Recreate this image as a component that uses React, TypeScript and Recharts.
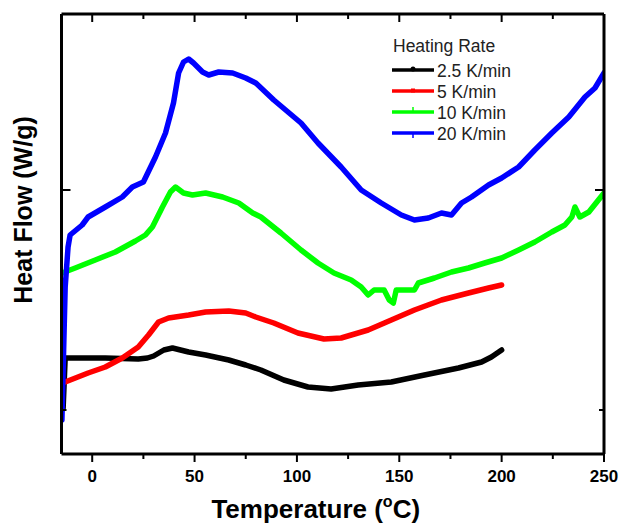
import { Label, Legend, Line, LineChart, XAxis, YAxis } from "recharts";

const TEMP_DOMAIN: [number, number] = [-15, 250];
const FLOW_DOMAIN: [number, number] = [-0.44, 3.96];
const TEMP_TICKS = [0, 25, 50, 75, 100, 125, 150, 175, 200, 225, 250];
const FLOW_TICKS = [0, 2.2];

const RATE_NAMES = ["2.5 K/min", "5 K/min", "10 K/min", "20 K/min"];
const RATE_COLORS = ["#000000", "#ff0000", "#00ff00", "#0000ff"];

// temperature (°C) and heat flow (arbitrary offset units)
const BLACK_T = [-14.2, -13.2, 6.4, 22.5, 27, 30, 35, 39.2, 47.1, 55.4, 66.7, 75.0, 82.4, 93.6, 105.4, 116.7, 129.9, 146.1, 162.3, 178.9, 190.2, 195, 200];
const BLACK_Q = [0.02, 0.52, 0.52, 0.51, 0.52, 0.54, 0.6, 0.62, 0.58, 0.55, 0.5, 0.45, 0.4, 0.3, 0.23, 0.21, 0.25, 0.28, 0.35, 0.42, 0.48, 0.53, 0.6];

const RED_T = [-13.2, -2.0, 6.4, 14.7, 22.5, 27.5, 32.4, 37.3, 47.1, 55.4, 66.7, 75.0, 79.9, 88.7, 100.5, 113.2, 121.6, 134.8, 146.1, 157.4, 170.6, 183.8, 193.6, 200];
const RED_Q = [0.28, 0.37, 0.43, 0.52, 0.63, 0.75, 0.88, 0.92, 0.95, 0.98, 0.99, 0.97, 0.93, 0.87, 0.77, 0.71, 0.72, 0.8, 0.9, 1.0, 1.1, 1.17, 1.22, 1.25];

const GREEN_T = [-14.7, -8.3, 1.5, 11.3, 21.1, 26.0, 29.4, 34.3, 38.2, 40.7, 44.6, 49.0, 55.4, 63.7, 71.6, 78.4, 82.4, 92.2, 102.0, 110.3, 118.1, 126.5, 131.4, 134.8, 137.7, 142.6, 145.1, 147.1, 148.5, 157.4, 159.3, 167.2, 175.5, 183.8, 191.7, 200.0, 208.3, 216.2, 224.5, 230.9, 234.3, 235.8, 238.2, 242.6, 250];
const GREEN_Q = [1.37, 1.42, 1.5, 1.58, 1.69, 1.75, 1.83, 2.03, 2.18, 2.23, 2.17, 2.15, 2.17, 2.13, 2.07, 1.97, 1.93, 1.77, 1.6, 1.47, 1.37, 1.3, 1.23, 1.15, 1.2, 1.2, 1.1, 1.07, 1.2, 1.2, 1.27, 1.32, 1.38, 1.42, 1.47, 1.52, 1.6, 1.68, 1.78, 1.85, 1.93, 2.03, 1.93, 1.98, 2.17];

const BLUE_T = [-14.8, -13.2, -11.8, -10.8, -4.9, -2.0, 6.4, 14.7, 19.6, 25.0, 30.9, 35.8, 39.7, 42.2, 44.6, 47.1, 49.5, 53.9, 56.9, 61.8, 68.6, 75.0, 79.9, 88.7, 102.0, 110.3, 121.6, 131.4, 141.2, 151.0, 157.4, 164.2, 170.6, 175.5, 180.4, 185.3, 193.6, 200.0, 208.3, 216.2, 224.5, 232.8, 240.7, 245.6, 250];
const BLUE_Q = [-0.1, 1.23, 1.63, 1.75, 1.85, 1.93, 2.03, 2.13, 2.23, 2.28, 2.53, 2.77, 3.07, 3.37, 3.48, 3.51, 3.47, 3.38, 3.35, 3.38, 3.37, 3.32, 3.27, 3.1, 2.87, 2.67, 2.43, 2.2, 2.07, 1.95, 1.9, 1.92, 1.97, 1.95, 2.07, 2.13, 2.25, 2.32, 2.43, 2.6, 2.77, 2.93, 3.13, 3.22, 3.37];

const SERIES = [
  { t: BLACK_T, q: BLACK_Q },
  { t: RED_T, q: RED_Q },
  { t: GREEN_T, q: GREEN_Q },
  { t: BLUE_T, q: BLUE_Q },
];

const FONT = "'Liberation Sans', Arial, sans-serif";

function toRows(t: number[], q: number[]) {
  return t.map((temp, i) => ({ t: temp, q: q[i] }));
}

function BottomTick({ x, y, payload }: any) {
  const major = payload.value % 50 === 0;
  return (
    <g>
      <line x1={x} x2={x} y1={y} y2={y + (major ? 8 : 5)} stroke="#000" strokeWidth={2} />
      {major && (
        <text x={x} y={y + 28} textAnchor="middle" fontSize={17} fontWeight="bold" fontFamily={FONT} fill="#000">
          {payload.value}
        </text>
      )}
    </g>
  );
}

function TopTick({ x, y, payload }: any) {
  const major = payload.value % 50 === 0;
  return <line x1={x} x2={x} y1={y} y2={y + (major ? 8 : 5)} stroke="#000" strokeWidth={2} />;
}

function LeftTick({ x, y, payload }: any) {
  const major = payload.value !== 0;
  return <line x1={x} x2={x + (major ? 9 : 5)} y1={y} y2={y} stroke="#000" strokeWidth={2} />;
}

function RightTick({ x, y, payload }: any) {
  const major = payload.value !== 0;
  return <line x1={x} x2={x - (major ? 9 : 5)} y1={y} y2={y} stroke="#000" strokeWidth={2} />;
}

function XTitle({ viewBox }: any) {
  const cx = viewBox.x + viewBox.width / 2 - 17;
  return (
    <text x={cx} y={viewBox.y + 64} textAnchor="middle" fontSize={26} fontWeight="bold" fontFamily={FONT} fill="#000">
      <tspan>Temperature (</tspan>
      <tspan fontSize={16} dy={-11}>o</tspan>
      <tspan dy={11}>C)</tspan>
    </text>
  );
}

function YTitle({ viewBox }: any) {
  const cx = 32;
  const cy = viewBox.y + viewBox.height / 2 - 24;
  return (
    <text
      x={cx}
      y={cy}
      transform={`rotate(-90, ${cx}, ${cy})`}
      textAnchor="middle"
      fontSize={25}
      fontWeight="bold"
      fontFamily={FONT}
      fill="#000"
    >
      Heat Flow (W/g)
    </text>
  );
}

function RateLegend() {
  return (
    <svg width={170} height={120} style={{ overflow: "visible" }}>
      <text x={8} y={22} fontSize={17.5} fontFamily={FONT} fill="#222">
        Heating Rate
      </text>
      {RATE_NAMES.map((name, i) => {
        const cy = 40 + i * 21;
        const color = RATE_COLORS[i];
        return (
          <g key={name}>
            <line x1={7} x2={49} y1={cy} y2={cy} stroke={color} strokeWidth={3.5} />
            {i === 0 && <circle cx={28} cy={cy - 1} r={2.5} fill={color} />}
            {i === 1 && <rect x={26} y={cy - 2.5} width={4} height={4} fill={color} />}
            {i === 2 && <line x1={28} x2={28} y1={cy} y2={cy - 5} stroke={color} strokeWidth={1.5} />}
            {i === 3 && <line x1={28} x2={28} y1={cy} y2={cy + 5} stroke={color} strokeWidth={1.5} />}
            <text x={52} y={cy + 6.5} fontSize={17.5} fontFamily={FONT} fill="#222">
              {name}
            </text>
          </g>
        );
      })}
    </svg>
  );
}

export default function App() {
  const axisLine = { stroke: "#000", strokeWidth: 3 };
  return (
    <div style={{ position: "absolute", left: 0, top: 0, background: "#fff" }}>
      <LineChart width={621} height={525} margin={{ top: 12, right: 15, bottom: 41, left: 59.5 }}>
        <XAxis
          xAxisId="b"
          dataKey="t"
          type="number"
          orientation="bottom"
          domain={TEMP_DOMAIN}
          allowDataOverflow
          ticks={TEMP_TICKS}
          height={30}
          axisLine={axisLine}
          tickLine={false}
          tickSize={0}
          tickMargin={0}
          tick={BottomTick}
          interval={0}
        >
          <Label content={XTitle} />
        </XAxis>
        <XAxis
          xAxisId="t"
          dataKey="t"
          type="number"
          orientation="top"
          domain={TEMP_DOMAIN}
          allowDataOverflow
          ticks={TEMP_TICKS}
          height={2}
          axisLine={axisLine}
          tickLine={false}
          tickSize={0}
          tickMargin={0}
          tick={TopTick}
          interval={0}
        />
        <YAxis
          yAxisId="l"
          type="number"
          orientation="left"
          domain={FLOW_DOMAIN}
          allowDataOverflow
          ticks={FLOW_TICKS}
          width={2}
          axisLine={axisLine}
          tickLine={false}
          tickSize={0}
          tickMargin={0}
          tick={LeftTick}
          interval={0}
        >
          <Label content={YTitle} />
        </YAxis>
        <YAxis
          yAxisId="r"
          type="number"
          orientation="right"
          domain={FLOW_DOMAIN}
          allowDataOverflow
          ticks={FLOW_TICKS}
          width={2}
          axisLine={axisLine}
          tickLine={false}
          tickSize={0}
          tickMargin={0}
          tick={RightTick}
          interval={0}
        />
        <Legend
          layout="horizontal"
          verticalAlign="middle"
          align="center"
          wrapperStyle={{ left: 385, top: 30, width: 170, height: 120 }}
          content={RateLegend}
        />
        {SERIES.map((s, i) => (
          <Line
            key={RATE_NAMES[i]}
            name={RATE_NAMES[i]}
            xAxisId="b"
            yAxisId="l"
            data={toRows(s.t, s.q)}
            dataKey="q"
            type="linear"
            stroke={RATE_COLORS[i]}
            strokeWidth={5.5}
            strokeLinejoin="round"
            strokeLinecap="round"
            dot={false}
            activeDot={false}
            isAnimationActive={false}
          />
        ))}
      </LineChart>
    </div>
  );
}
